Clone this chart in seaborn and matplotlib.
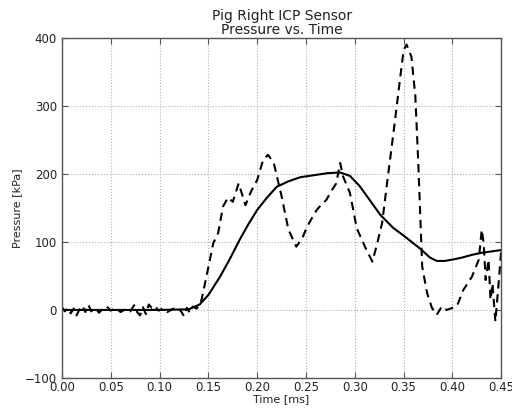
import matplotlib
matplotlib.use('Agg')

import matplotlib.pyplot as plt
import seaborn as sns
import pandas as pd

# raw sensor trace (dashed)
raw_t = [0.000, 0.003, 0.006, 0.009, 0.012, 0.015, 0.018, 0.021, 0.024, 0.027,
         0.030, 0.034, 0.038, 0.042, 0.046, 0.050, 0.055, 0.060, 0.065, 0.070,
         0.074, 0.077, 0.080, 0.083, 0.086, 0.089, 0.092, 0.095, 0.099, 0.103,
         0.108, 0.113, 0.118, 0.122, 0.125, 0.128, 0.131, 0.134, 0.138, 0.141,
         0.143, 0.148, 0.155, 0.160, 0.165, 0.170, 0.175, 0.181, 0.188, 0.194,
         0.200, 0.206, 0.211, 0.217, 0.225, 0.232, 0.240, 0.246, 0.251, 0.256,
         0.261, 0.266, 0.271, 0.276, 0.281, 0.285, 0.288, 0.295, 0.302, 0.311,
         0.318, 0.323, 0.328, 0.333, 0.340, 0.345, 0.350, 0.353, 0.358, 0.362,
         0.365, 0.369, 0.374, 0.379, 0.384, 0.389, 0.394, 0.400, 0.405, 0.411,
         0.420, 0.427, 0.430, 0.432, 0.434, 0.437, 0.439, 0.441, 0.444, 0.447,
         0.450]
raw_p = [4, -2, 3, -5, 2, -8, 1, 6, -3, 8,
         -2, 3, -4, 2, 5, -1, 3, -3, 1, -2,
         7, -3, -8, 4, -6, 8, 3, 6, -1, 2,
         -3, 1, 4, -2, -9, 3, -4, 5, 2, 8,
         15, 49, 98, 113, 152, 165, 159, 186, 154, 175,
         191, 220, 228, 216, 167, 118, 93, 105, 122, 135,
         147, 155, 162, 175, 186, 216, 196, 172, 120, 91,
         71, 98, 128, 186, 265, 324, 382, 390, 372, 314,
         216, 64, 25, 3, -7, 5, 0, 3, 7, 29,
         49, 74, 118, 98, 44, 74, 15, 39, -17, 34,
         88]

# filtered trace (solid)
fit_t = [0.000, 0.050, 0.100, 0.130, 0.141, 0.150, 0.162, 0.172, 0.182, 0.191,
         0.200, 0.210, 0.220, 0.232, 0.244, 0.258, 0.272, 0.285, 0.295, 0.305,
         0.315, 0.326, 0.339, 0.352, 0.367, 0.377, 0.384, 0.392, 0.400, 0.410,
         0.420, 0.430, 0.440, 0.450]
fit_p = [0, 0, 0, 1, 8, 22, 49, 75, 103, 126,
         147, 165, 181, 189, 195, 198, 201, 202, 197, 182,
         162, 140, 121, 107, 90, 77, 72, 72, 74, 77,
         81, 84, 86, 88]

raw = pd.DataFrame({'t': raw_t, 'p': raw_p})
fit = pd.DataFrame({'t': fit_t, 'p': fit_p})

sns.set_style('white')
plt.rcParams['font.family'] = ['DejaVu Sans']

fig = plt.figure(figsize=(5.12, 4.08), dpi=100)
ax = fig.add_axes([0.121, 0.0735, 0.858, 0.834])

sns.lineplot(data=raw, x='t', y='p', ax=ax, color='black', linewidth=1.5,
             dashes=False)
ax.lines[-1].set_dashes((4, 2.7))
sns.lineplot(data=fit, x='t', y='p', ax=ax, color='black', linewidth=1.5)

ax.set_xlim(0, 0.45)
ax.set_ylim(-100, 400)
ax.set_xticks([0.0, 0.05, 0.10, 0.15, 0.20, 0.25, 0.30, 0.35, 0.40, 0.45])
ax.set_yticks([-100, 0, 100, 200, 300, 400])
ax.xaxis.set_major_formatter(matplotlib.ticker.FormatStrFormatter('%.2f'))
ax.yaxis.set_major_formatter(matplotlib.ticker.FuncFormatter(
    lambda v, pos: '\u2212100' if v < 0 else '%d' % v))
ax.grid(True, color='#b0b0b0', linestyle=':', linewidth=0.8)
ax.tick_params(direction='in', length=4, labelsize=8.5, color='#555555',
               labelcolor='#222222', top=True, right=True, bottom=True,
               left=True)
ax.tick_params(axis='x', pad=2)
for s in ax.spines.values():
    s.set_color('#555555')
    s.set_linewidth(1.0)

ax.set_xlabel('Time [ms]', fontsize=8, labelpad=0, color='#222222')
ax.set_ylabel('Pressure [kPa]', fontsize=8, labelpad=2, color='#222222')
ax.set_title('Pig Right ICP Sensor\nPressure vs. Time', fontsize=10, pad=3,
             linespacing=1.0, color='#222222')

plt.savefig('out.png', dpi=100)
